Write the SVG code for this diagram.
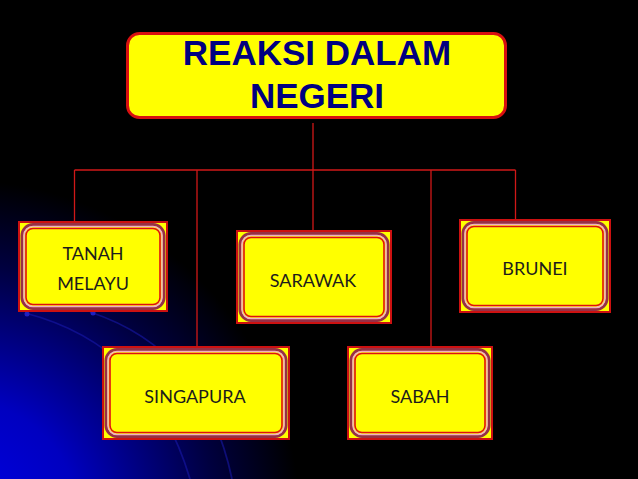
<svg xmlns="http://www.w3.org/2000/svg" width="638" height="479" viewBox="0 0 638 479">
<defs>
<radialGradient id="bg" cx="-40" cy="520" r="340" gradientUnits="userSpaceOnUse">
<stop offset="0" stop-color="#0000e8"/>
<stop offset="0.35" stop-color="#0000c0"/>
<stop offset="0.75" stop-color="#000040"/>
<stop offset="1" stop-color="#000000"/>
</radialGradient>
<style>
.conn{stroke:#d01818;stroke-width:1.3;fill:none}
.outer{fill:#ffff00;stroke:#cc1111;stroke-width:2}
.f1{fill:none;stroke:#963046;stroke-width:3}
.f2{fill:none;stroke:#efb2c2;stroke-width:1.5}
.f3{fill:#ffff00;stroke:#e01010;stroke-width:1.6}
.lbl{font-family:Lato,"Open Sans",sans-serif;font-size:18px;fill:#1c1c1c;text-anchor:middle}
.title{font-family:"Liberation Sans",Arial,sans-serif;font-weight:bold;font-size:35px;fill:#000080;text-anchor:middle}
.arc{fill:none;stroke:#1a1ab0;stroke-width:1.8;opacity:0.55}
</style>
</defs>
<rect width="638" height="479" fill="#000"/>
<rect width="638" height="479" fill="url(#bg)"/>
<path class="arc" d="M25,313 Q150,345 190,479"/>
<path class="arc" d="M90,312 Q205,350 232,479"/>
<circle cx="27" cy="314" r="2.5" fill="#2020c0"/>
<circle cx="93" cy="313" r="2.5" fill="#2020c0"/>

<g id="connectors">
<path class="conn" d="M313,123 V170 M74.5,170 H515.5 M74.5,170 V222 M197,170 V347 M313,170 V231 M431,170 V347 M515.5,170 V220"/>
</g>

<g id="root">
<rect x="127.5" y="33.5" width="378" height="84" rx="12" fill="#ffff00" stroke="#d81010" stroke-width="3"/>
<text class="title" x="317" y="65">REAKSI DALAM</text>
<text class="title" x="317" y="108">NEGERI</text>
</g>

<g id="tanah-melayu">
<rect class="outer" x="19" y="222" width="148" height="89"/>
<rect class="f1" x="22" y="224.5" width="142" height="84" rx="11"/>
<rect class="f2" x="24" y="226.5" width="138" height="80" rx="9"/>
<rect class="f3" x="26" y="228.5" width="134" height="76" rx="7"/>
<text class="lbl" x="93" y="260">TANAH</text>
<text class="lbl" x="93" y="290">MELAYU</text>
</g>

<g id="sarawak">
<rect class="outer" x="237" y="231" width="154" height="92"/>
<rect class="f1" x="240" y="233.5" width="148" height="87" rx="11"/>
<rect class="f2" x="242" y="235.5" width="144" height="83" rx="9"/>
<rect class="f3" x="244" y="237.5" width="140" height="79" rx="7"/>
<text class="lbl" x="313" y="287">SARAWAK</text>
</g>

<g id="brunei">
<rect class="outer" x="460" y="220" width="150" height="92"/>
<rect class="f1" x="463" y="222.5" width="144" height="87" rx="11"/>
<rect class="f2" x="465" y="224.5" width="140" height="83" rx="9"/>
<rect class="f3" x="467" y="226.5" width="136" height="79" rx="7"/>
<text class="lbl" x="535" y="275">BRUNEI</text>
</g>

<g id="singapura">
<rect class="outer" x="103" y="347" width="186" height="92"/>
<rect class="f1" x="106" y="349.5" width="180" height="87" rx="11"/>
<rect class="f2" x="108" y="351.5" width="176" height="83" rx="9"/>
<rect class="f3" x="110" y="353.5" width="172" height="79" rx="7"/>
<text class="lbl" x="195" y="403">SINGAPURA</text>
</g>

<g id="sabah">
<rect class="outer" x="348" y="347" width="144" height="92"/>
<rect class="f1" x="351" y="349.5" width="138" height="87" rx="11"/>
<rect class="f2" x="353" y="351.5" width="134" height="83" rx="9"/>
<rect class="f3" x="355" y="353.5" width="130" height="79" rx="7"/>
<text class="lbl" x="420" y="403">SABAH</text>
</g>
</svg>
